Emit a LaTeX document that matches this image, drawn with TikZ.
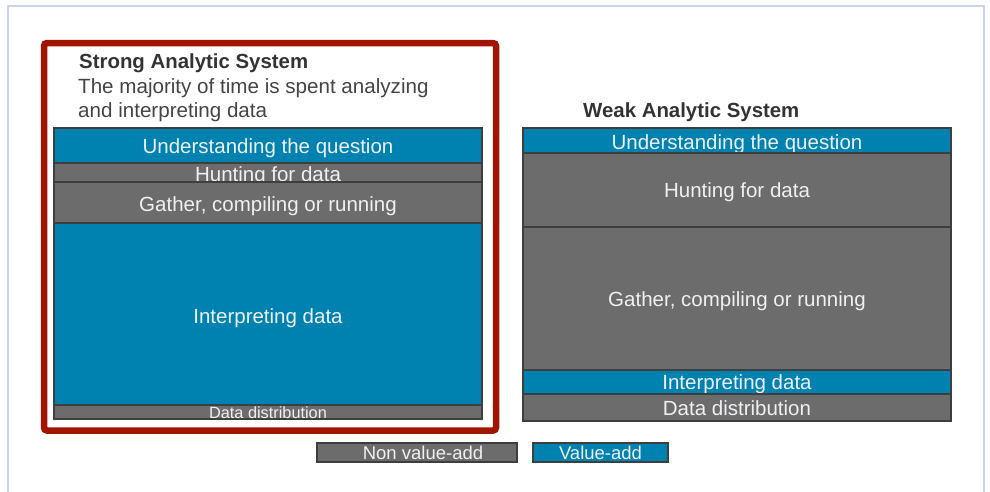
\documentclass[tikz,border=0pt]{standalone}
\usepackage{fontspec}
\setmainfont{Liberation Sans}

\definecolor{barblue}{RGB}{0,130,176}
\definecolor{bargray}{RGB}{108,108,108}
\definecolor{barline}{RGB}{62,62,62}
\definecolor{strongred}{RGB}{160,20,0}
\definecolor{frameblue}{RGB}{198,216,236}
\definecolor{titlegray}{RGB}{51,51,51}
\definecolor{subgray}{RGB}{68,68,68}
\definecolor{bartext}{RGB}{238,240,243}

\tikzset{
            valueadd/.style = {draw=barline, fill=barblue, line width=1.2pt},
            nonvalue/.style = {draw=barline, fill=bargray, line width=1.2pt},
            barlabel/.style = {text=bartext, inner sep=0pt, text depth=0pt, text height=14.7pt, font=\fontsize{20.5}{22}\selectfont},
            smalllabel/.style = {barlabel, text height=11.7pt, font=\fontsize{16.3}{18}\selectfont},
            keylabel/.style = {barlabel, text height=13.2pt, font=\fontsize{18.5}{20}\selectfont},
            systitle/.style = {anchor=base west, inner sep=0pt, text=titlegray, font=\fontsize{20.4}{22}\selectfont\bfseries},
            subtitle/.style = {anchor=base west, inner sep=0pt, text=subgray, font=\fontsize{20.6}{24}\selectfont}
        }

\begin{document}
\begin{tikzpicture}[x=1pt, y=-1pt]
            \clip (0,0) rectangle (990,491);
            \draw[color=frameblue, line width=1.2pt] (8,6) rectangle (984,520);

            \draw[color=strongred, line width=6.5pt, rounded corners=3pt] (44,43) rectangle (496,430.5);
            \node[systitle] (strongtitle) at (79,68) {Strong Analytic System};
            \node[subtitle] (strongsubone) at (78,93) {The majority of time is spent analyzing};
            \node[subtitle] (strongsubtwo) at (78,117) {and interpreting data};

            \draw[valueadd] (54,128) rectangle (482,163) node[midway, barlabel, yshift=-0.5pt] (sunder) {Understanding the question};
            \draw[nonvalue] (54,163) rectangle (482,182) node[midway, barlabel, yshift=-1.5pt] (shunt) {Hunting for data};
            \draw[nonvalue] (54,182) rectangle (482,223) node[midway, barlabel, yshift=-1.5pt] (sgather) {Gather, compiling or running};
            \draw[valueadd] (54,223) rectangle (482,405) node[midway, barlabel, yshift=-2pt] (sinterp) {Interpreting data};
            \draw[nonvalue] (54,405) rectangle (482,419) node[midway, smalllabel, yshift=-0.5pt] (sdistr) {Data distribution};

            \node[systitle] (weaktitle) at (583,117) {Weak Analytic System};

            \draw[valueadd] (523,128) rectangle (951,153) node[midway, barlabel, yshift=-2pt] (wunder) {Understanding the question};
            \draw[nonvalue] (523,153) rectangle (951,227) node[midway, barlabel] (whunt) {Hunting for data};
            \draw[nonvalue] (523,227) rectangle (951,370) node[midway, barlabel, yshift=-1pt] (wgather) {Gather, compiling or running};
            \draw[valueadd] (523,370) rectangle (951,394) node[midway, barlabel] (winterp) {Interpreting data};
            \draw[nonvalue] (523,394) rectangle (951,421) node[midway, barlabel, yshift=-1pt] (wdistr) {Data distribution};

            \draw[nonvalue] (317,443) rectangle (517,462) node[midway, keylabel, xshift=6pt] (keynon) {Non value-add};
            \draw[valueadd] (533,443) rectangle (668,462) node[midway, keylabel] (keyval) {Value-add};
\end{tikzpicture}
\end{document}
